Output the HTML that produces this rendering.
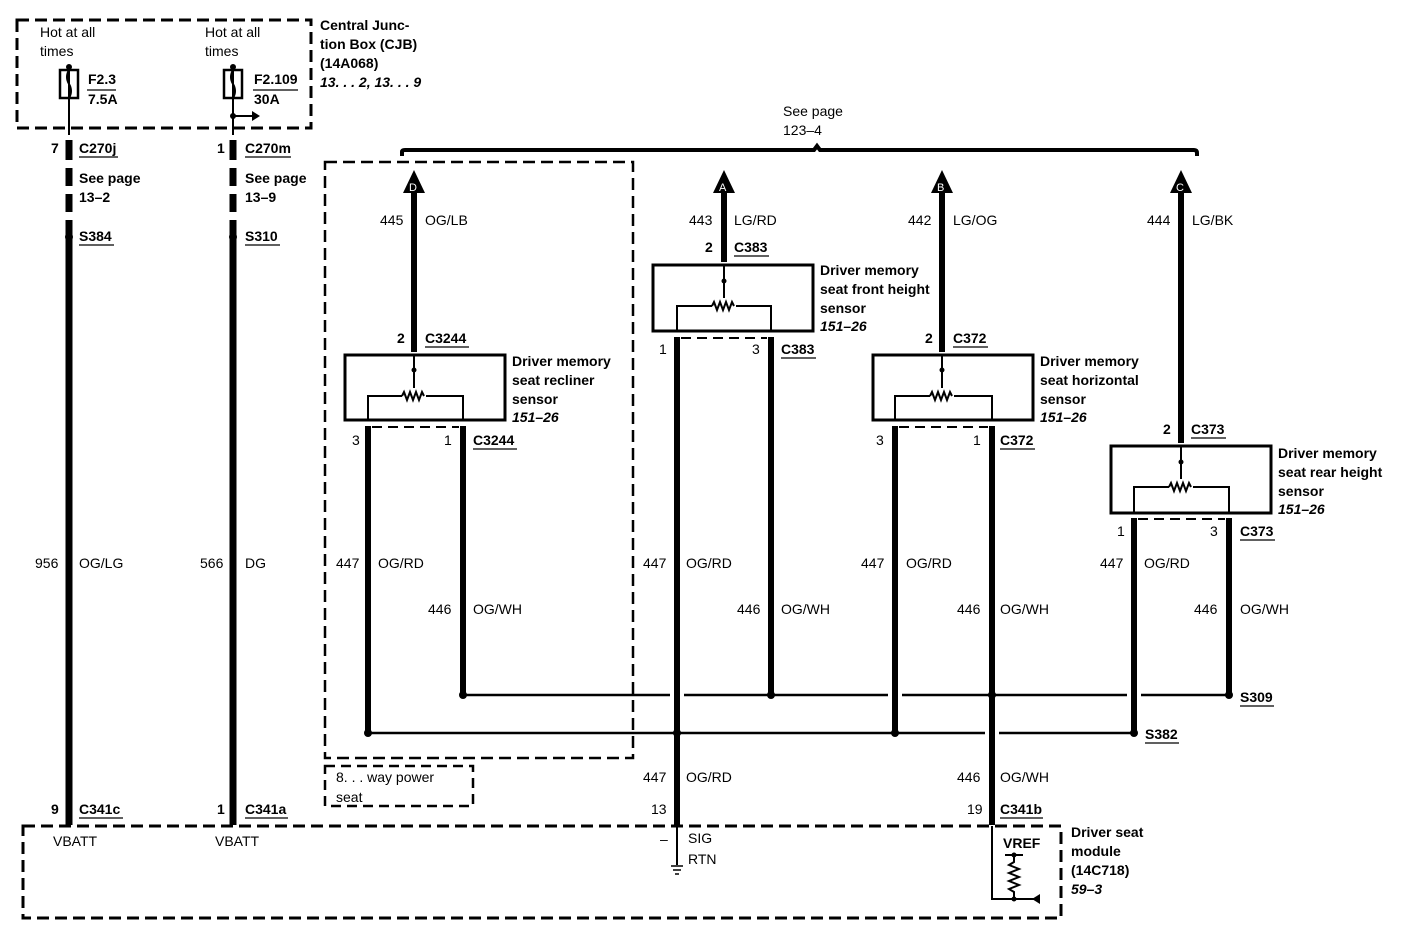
<!DOCTYPE html>
<html><head><meta charset="utf-8"><style>
html,body{margin:0;padding:0;background:#fff}
svg{display:block}
text{font-family:"Liberation Sans",Arial,sans-serif;font-size:14px;fill:#000}
.b{font-weight:bold}
.i{font-weight:bold;font-style:italic}
</style></head><body>
<svg width="1408" height="942" viewBox="0 0 1408 942" xmlns="http://www.w3.org/2000/svg">
<g fill="none" stroke="#000">
<!-- dashed boxes -->
<rect x="17" y="20" width="294" height="108" stroke-width="3" stroke-dasharray="12,6"/>
<rect x="325" y="162" width="308" height="596" stroke-width="2.5" stroke-dasharray="12,6"/>
<rect x="325" y="766" width="148" height="40" stroke-width="2.5" stroke-dasharray="10,6"/>
<rect x="23" y="826" width="1038" height="92" stroke-width="3" stroke-dasharray="12,6"/>
<!-- bracket -->
<path d="M402,156 V152 Q402,150 405,150 H814 L817,146 L820,150 H1194 Q1197,150 1197,153 V156" stroke-width="4"/>
<!-- CJB wires -->
<path d="M69,65 V135 M233,65 V135 M233,116 H252" stroke-width="2"/>
<!-- thick wires left -->
<path d="M69,140 V825 M233,140 V825" stroke-width="7"/>
<path d="M69,160 V168 M69,186 V194 M69,212 V220" stroke="#fff" stroke-width="9"/>
<path d="M233,160 V168 M233,186 V194 M233,212 V220" stroke="#fff" stroke-width="9"/>
<!-- top arrow wires -->
<path d="M414,190 V352 M724,190 V262 M942,190 V352 M1181,190 V443" stroke-width="6"/>
<!-- sensor boxes -->
<rect x="345" y="355" width="160" height="65" stroke-width="3"/>
<rect x="653" y="265" width="160" height="66" stroke-width="3"/>
<rect x="873" y="355" width="160" height="65" stroke-width="3"/>
<rect x="1111" y="446" width="160" height="67" stroke-width="3"/>
<!-- inner loops -->
<path d="M368,420 V396 H402 M426,396 H463 V420" stroke-width="2"/>
<path d="M677,331 V306 H712 M736,306 H771 V331" stroke-width="2"/>
<path d="M895,420 V396 H930 M954,396 H992 V420" stroke-width="2"/>
<path d="M1134,513 V487 H1169 M1193,487 H1229 V513" stroke-width="2"/>
<path d="M402,396 l2,-4 l3,8 l3,-8 l3,8 l3,-8 l3,8 l3,-8 l2,4" stroke-width="2"/>
<path d="M712,306 l2,-4 l3,8 l3,-8 l3,8 l3,-8 l3,8 l3,-8 l2,4" stroke-width="2"/>
<path d="M930,396 l2,-4 l3,8 l3,-8 l3,8 l3,-8 l3,8 l3,-8 l2,4" stroke-width="2"/>
<path d="M1169,487 l2,-4 l3,8 l3,-8 l3,8 l3,-8 l3,8 l3,-8 l2,4" stroke-width="2"/>
<!-- wipers -->
<path d="M414,355 V388 M724,265 V298 M942,355 V388 M1181,446 V479" stroke-width="2"/>
<!-- dashed pin links -->
<path d="M372,427 H459 M681,338 H767 M899,427 H988 M1138,519 H1225" stroke-width="2" stroke-dasharray="10,6"/>
<!-- lower thick wires -->
<path d="M368,426 V733 M463,426 V695 M677,337 V825 M771,337 V695 M895,426 V733 M992,426 V825 M1134,518 V733 M1229,518 V695" stroke-width="6"/>
<!-- bus lines -->
<path d="M463,695 H670 M684,695 H888 M902,695 H1127 M1141,695 H1229" stroke-width="2.5"/>
<path d="M368,733 H985 M999,733 H1134" stroke-width="2.5"/>
<!-- module internals -->
<path d="M677,826 V865 M992,826 V899 H1040" stroke-width="2"/>
<path d="M1014,855 V862 l-5,3 l10,4 l-10,4 l10,4 l-10,4 l10,4 l-10,4 l5,3 V899 M1005,855 H1023" stroke-width="2"/>
<path d="M671,866 H683 M673,870 H681 M675,874 H679" stroke-width="1.5"/>
<!-- underlines -->
<g stroke-width="1.3">
<path d="M87,90 H116 M253,90 H298"/>
<path d="M79,157 H118 M245,157 H291 M79,245 H114 M245,245 H280"/>
<path d="M425,347 H469 M473,449 H517 M734,256 H769 M781,358 H816 M953,347 H988 M1000,449 H1035 M1191,438 H1226 M1240,540 H1275"/>
<path d="M1240,706 H1274 M1145,743 H1179 M79,818 H123 M245,818 H288 M1000,818 H1043"/>
</g>
</g>
<g fill="#000">
<!-- fuses -->
<rect x="60" y="70" width="18" height="28" fill="none" stroke="#000" stroke-width="2.5"/>
<rect x="224" y="70" width="18" height="28" fill="none" stroke="#000" stroke-width="2.5"/>
<path d="M69,70 q-4,7 0,14 q4,7 0,14" fill="none" stroke="#000" stroke-width="2"/>
<path d="M233,70 q-4,7 0,14 q4,7 0,14" fill="none" stroke="#000" stroke-width="2"/>
<circle cx="69" cy="67" r="3"/><circle cx="233" cy="67" r="3"/><circle cx="233" cy="116" r="3"/>
<polygon points="252,111 260,116 252,121"/>
<!-- arrow heads -->
<polygon points="414,170 403,193 425,193"/>
<polygon points="724,170 713,193 735,193"/>
<polygon points="942,170 931,193 953,193"/>
<polygon points="1181,170 1170,193 1192,193"/>
<polygon points="1040,894 1032,899 1040,904"/>
<!-- dots -->
<circle cx="69" cy="237" r="4"/><circle cx="233" cy="237" r="4"/>
<circle cx="463" cy="695" r="4"/><circle cx="771" cy="695" r="4"/><circle cx="992" cy="695" r="4"/><circle cx="1229" cy="695" r="4"/>
<circle cx="368" cy="733" r="4"/><circle cx="677" cy="733" r="4"/><circle cx="895" cy="733" r="4"/><circle cx="1134" cy="733" r="4"/>
<circle cx="414" cy="370" r="2.5"/><circle cx="724" cy="281" r="2.5"/><circle cx="942" cy="370" r="2.5"/><circle cx="1181" cy="462" r="2.5"/>
<circle cx="1014" cy="855" r="2.5"/><circle cx="1014" cy="899" r="2.5"/>
</g>
<!-- arrow letters -->
<g fill="#fff"><text x="409" y="191" font-size="11" style="fill:#fff;font-size:11px">D</text>
<text x="719" y="191" style="fill:#fff;font-size:11px">A</text>
<text x="937" y="191" style="fill:#fff;font-size:11px">B</text>
<text x="1176" y="191" style="fill:#fff;font-size:11px">C</text></g>

<!-- CJB -->
<text x="40" y="37">Hot at all</text><text x="40" y="56">times</text>
<text x="205" y="37">Hot at all</text><text x="205" y="56">times</text>
<text x="88" y="84" class="b">F2.3</text><text x="88" y="104" class="b">7.5A</text>
<text x="254" y="84" class="b">F2.109</text><text x="254" y="104" class="b">30A</text>
<text x="320" y="30" class="b">Central Junc-</text>
<text x="320" y="49" class="b">tion Box (CJB)</text>
<text x="320" y="68" class="b">(14A068)</text>
<text x="320" y="87" class="i">13.  .  .  2, 13.  .  .  9</text>

<text x="51" y="153" class="b">7</text><text x="79" y="153" class="b">C270j</text>
<text x="79" y="183" class="b">See page</text><text x="79" y="202" class="b">13–2</text>
<text x="79" y="241" class="b">S384</text>
<text x="35" y="568">956</text><text x="79" y="568">OG/LG</text>
<text x="51" y="814" class="b">9</text><text x="79" y="814" class="b">C341c</text>
<text x="53" y="846">VBATT</text>

<text x="217" y="153" class="b">1</text><text x="245" y="153" class="b">C270m</text>
<text x="245" y="183" class="b">See page</text><text x="245" y="202" class="b">13–9</text>
<text x="245" y="241" class="b">S310</text>
<text x="200" y="568">566</text><text x="245" y="568">DG</text>
<text x="217" y="814" class="b">1</text><text x="245" y="814" class="b">C341a</text>
<text x="215" y="846">VBATT</text>

<text x="783" y="116">See page</text><text x="783" y="135">123–4</text>

<text x="380" y="225">445</text><text x="425" y="225">OG/LB</text>
<text x="397" y="343" class="b">2</text><text x="425" y="343" class="b">C3244</text>
<text x="512" y="366" class="b">Driver memory</text><text x="512" y="385" class="b">seat recliner</text>
<text x="512" y="404" class="b">sensor</text><text x="512" y="422" class="i">151–26</text>
<text x="352" y="445">3</text><text x="444" y="445">1</text><text x="473" y="445" class="b">C3244</text>
<text x="336" y="568">447</text><text x="378" y="568">OG/RD</text>
<text x="428" y="614">446</text><text x="473" y="614">OG/WH</text>
<text x="336" y="782">8.  .  .  way power</text><text x="336" y="802">seat</text>

<text x="689" y="225">443</text><text x="734" y="225">LG/RD</text>
<text x="705" y="252" class="b">2</text><text x="734" y="252" class="b">C383</text>
<text x="820" y="275" class="b">Driver memory</text><text x="820" y="294" class="b">seat front height</text>
<text x="820" y="313" class="b">sensor</text><text x="820" y="331" class="i">151–26</text>
<text x="659" y="354">1</text><text x="752" y="354">3</text><text x="781" y="354" class="b">C383</text>
<text x="643" y="568">447</text><text x="686" y="568">OG/RD</text>
<text x="737" y="614">446</text><text x="781" y="614">OG/WH</text>
<text x="643" y="782">447</text><text x="686" y="782">OG/RD</text>
<text x="651" y="814">13</text>
<text x="660" y="844">–</text><text x="688" y="843">SIG</text><text x="688" y="864">RTN</text>

<text x="908" y="225">442</text><text x="953" y="225">LG/OG</text>
<text x="925" y="343" class="b">2</text><text x="953" y="343" class="b">C372</text>
<text x="1040" y="366" class="b">Driver memory</text><text x="1040" y="385" class="b">seat horizontal</text>
<text x="1040" y="404" class="b">sensor</text><text x="1040" y="422" class="i">151–26</text>
<text x="876" y="445">3</text><text x="973" y="445">1</text><text x="1000" y="445" class="b">C372</text>
<text x="861" y="568">447</text><text x="906" y="568">OG/RD</text>
<text x="957" y="614">446</text><text x="1000" y="614">OG/WH</text>
<text x="957" y="782">446</text><text x="1000" y="782">OG/WH</text>
<text x="967" y="814">19</text><text x="1000" y="814" class="b">C341b</text>
<text x="1003" y="848" class="b">VREF</text>

<text x="1147" y="225">444</text><text x="1192" y="225">LG/BK</text>
<text x="1163" y="434" class="b">2</text><text x="1191" y="434" class="b">C373</text>
<text x="1278" y="458" class="b">Driver memory</text><text x="1278" y="477" class="b">seat rear height</text>
<text x="1278" y="496" class="b">sensor</text><text x="1278" y="514" class="i">151–26</text>
<text x="1117" y="536">1</text><text x="1210" y="536">3</text><text x="1240" y="536" class="b">C373</text>
<text x="1100" y="568">447</text><text x="1144" y="568">OG/RD</text>
<text x="1194" y="614">446</text><text x="1240" y="614">OG/WH</text>
<text x="1240" y="702" class="b">S309</text><text x="1145" y="739" class="b">S382</text>

<text x="1071" y="837" class="b">Driver seat</text><text x="1071" y="856" class="b">module</text>
<text x="1071" y="875" class="b">(14C718)</text><text x="1071" y="894" class="i">59–3</text>
</svg>
</body></html>
